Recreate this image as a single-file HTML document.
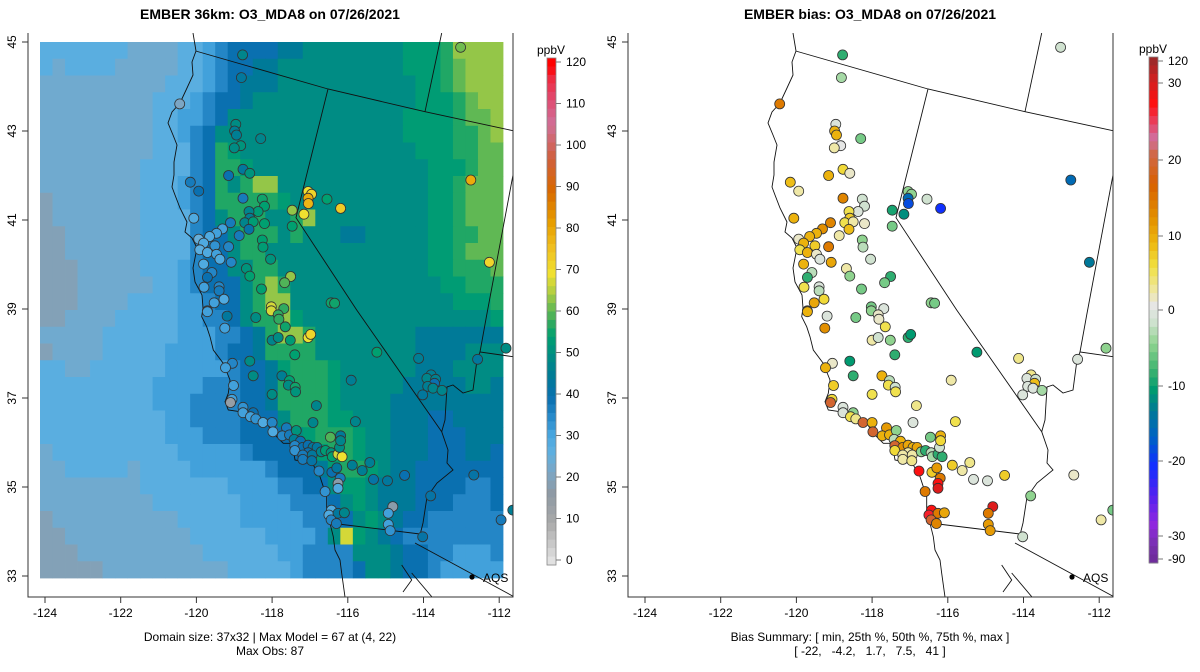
<!DOCTYPE html>
<html><head><meta charset="utf-8"><style>
html,body{margin:0;padding:0;background:#fff}
svg{display:block;font-family:"Liberation Sans",sans-serif}
</style></head><body>
<svg id="s" width="1200" height="672" viewBox="0 0 1200 672" xmlns="http://www.w3.org/2000/svg">
<defs>
<clipPath id="clipL"><rect x="28" y="33" width="485" height="564"/></clipPath>
<clipPath id="clipR"><rect x="628" y="33" width="485" height="564"/></clipPath>
</defs>
<text x="270" y="19" text-anchor="middle" font-size="14" font-weight="bold">EMBER 36km: O3_MDA8 on 07/26/2021</text>
<text x="870" y="19" text-anchor="middle" font-size="14" font-weight="bold">EMBER bias: O3_MDA8 on 07/26/2021</text>
<text x="270" y="641" text-anchor="middle" font-size="12">Domain size: 37x32 | Max Model = 67 at (4, 22)</text>
<text x="270" y="655" text-anchor="middle" font-size="12">Max Obs: 87</text>
<text x="870" y="641" text-anchor="middle" font-size="12">Bias Summary: [ min, 25th %, 50th %, 75th %, max ]</text>
<text x="870" y="655" text-anchor="middle" font-size="12" xml:space="preserve">[ -22,   -4.2,   1.7,   7.5,   41 ]</text>
<g id="L"></g>
<g id="R"></g>
</svg>
<script>
// ---- data ----
const gridRows=[
"cccccccbbbbccdeffffgghhhhhhhhiiijllll",
"cbccccbbbbbccdeffgghhhhhhhhhhiiijklll",
"bbbbbbbbbbcccdefggghhhhhhhhhhhiijklll",
"bbbbbbbbbcccdeffghhhhhhhhhhhhhiiijkll",
"bbbbbbbbbccddefhhhhhhhhhhhhhhiiiijkkl",
"bbbbbbbbbccdefhhhhhhhhhhhhhhhiiiijjkl",
"bbbbbbbbbcccefjihhhhhhhhhhhhhhiiijjkk",
"bbbbbbbbccccefjjihhhhhhhhhhhhhhiiijkk",
"bbbbbbbbcccdefjhjllhhhhhhhhhhhhiijkkk",
"abbbbbbbcccdefjjjjjihhhhhhhhhhhiijkkk",
"abbbbbbbccccefhjjjhhjlhhhhhhhhhiijkkk",
"aabbbbbbcccceffhjjjhjhhhgghhhhhiijjkk",
"aabbbbbbcccceffhjjhhhhhhhhhhhhhiijkkk",
"aaabbbbbcccdeffhhjjhhhhhhhhhhhhiijjjk",
"aaabbbbbbccdefffhjljhhhhhhhhhhhhiijjj",
"aaabbbbccccddeffhjllhhhhhhhhhhhhhiiij",
"aabbbbcccccddeefhjjlihhhhhhhhhhhhhhhi",
"bbbbbccccccdddeefgjlljhhhhhhhhggggggg",
"abbbbcccccddddeffgjjjjhhhhhhhhgggghhh",
"ccbbccccccdddddeffgijjjihhhhhhggghhhh",
"cccccccccddddeeeffgjjjjihhhhhggggghhg",
"cccccccccdddeeeeffgjjjjihhhhggggggggg",
"ccccccccccddeeeefffhjjjiihhhgggffgggg",
"ccccccccccdddeeeffffhijjjihhgggfffggg",
"bccccccccccdddddeffffhijjihhgggfffggf",
"bbcccccbccccddddddefffgijjihggfffffff",
"bbbbbbbbcccccccddddeeffhiihgggffffeef",
"bbbbbbbbbcccccccddddeeefhihgggfffeeef",
"abbbbbbbbbbcccccdddddeeefhihgffeeeeee",
"aabbbbbbbbbbccccccddddehmihgfeeeeeeee",
"aaabbbbbbbbbbccccccddeeeehhhgffeeddde",
"aaaaabbbbbbbbbbcccccdeeeefhhgffeddddd"];
const gridLevels={a:20,b:24,c:28,d:32,e:36,f:40,g:45,h:50,i:54,j:57,k:61,l:64,m:68};
const siteLon=[-118.78,-118.81,-120.44,-118.96,-118.99,-118.94,-118.83,-119.0,-118.30,-118.77,-118.59,-119.15,-120.16,-119.94,-118.77,-118.26,-118.20,-118.37,-118.61,-118.59,-118.72,-118.5,-118.61,-118.2,-117.05,-116.96,-117.05,-117.04,-116.55,-116.19,-117.47,-117.16,-117.47,-113.02,-112.75,-112.26,-120.07,-119.1,-119.31,-119.47,-119.65,-119.94,-119.81,-119.51,-119.91,-119.71,-119.47,-119.38,-119.15,-118.87,-118.26,-118.24,-119.81,-119.59,-119.71,-119.08,-118.68,-118.59,-118.04,-119.4,-119.4,-119.8,-119.27,-119.53,-119.71,-118.28,-117.51,-117.67,-116.44,-116.35,-118.02,-117.69,
-119.71,-119.19,-119.25,-118.43,-118.02,-117.84,-117.82,-117.65,-118.0,-117.84,-117.52,-117.05,-116.98,-117.40,-115.23,-114.13,-112.57,-111.82,-119.05,-119.23,-118.59,-118.5,-119.02,-117.74,-117.54,-117.57,-117.39,-117.38,-118.0,-115.91,-113.8,-113.91,-113.68,-113.71,-113.89,-113.75,-113.51,-114.02,-119.06,-119.1,-118.77,-118.77,-118.5,-116.83,-116.92,-115.8,-118.57,-118.43,-118.24,-118.0,-117.98,-117.62,-117.73,-117.54,-117.36,-117.42,-117.25,-117.4,-117.19,-117.4,-117.05,-116.92,-116.81,-117.05,-117.19,-117.19,-116.94,-116.95,-116.7,-116.59,-116.44,-116.41,-116.26,-116.15,-116.22,-116.19,-116.19,-116.46,-115.88,-115.42,-115.62,-115.32,-114.95,-114.5,-112.67,-113.81,-114.02,-111.95,-111.64,-116.76,-116.42,-116.29,-116.2,-116.26,-116.26,-116.6,-116.43,-116.5,-116.26,-116.09,-116.44,-116.3,-114.81,-114.93,-114.93,-114.88];
const siteLat=[44.71,44.20,43.61,43.15,43.0,42.91,42.67,42.62,42.83,42.14,42.05,42.0,41.85,41.65,41.49,41.47,41.31,41.19,41.19,41.04,40.94,40.96,40.79,40.92,41.64,41.58,41.49,41.37,41.47,41.26,41.22,41.13,40.86,44.88,41.9,40.05,41.04,40.94,40.80,40.7,40.63,40.57,40.48,40.42,40.33,40.27,40.23,40.12,40.4,40.65,40.55,40.39,40.01,39.82,39.71,40.05,39.91,39.74,40.12,39.5,39.41,39.49,39.22,39.14,38.96,39.45,39.73,39.59,39.14,39.13,39.05,39.01,
38.94,38.84,38.57,38.81,38.96,38.87,38.77,38.60,38.30,38.36,38.30,38.36,38.43,37.97,38.03,37.89,37.87,38.12,37.78,37.68,37.83,37.5,37.28,37.5,37.39,37.29,37.24,37.14,37.08,37.40,37.52,37.44,37.42,37.33,37.26,37.22,37.17,37.07,36.97,36.90,36.79,36.67,36.67,36.83,36.45,36.47,36.58,36.53,36.45,36.45,36.24,36.33,36.15,36.17,36.27,36.07,36.03,35.93,35.89,35.82,35.94,35.89,35.89,35.77,35.72,35.62,35.72,35.59,35.79,35.82,35.77,35.68,35.74,35.68,35.89,36.15,36.04,36.12,35.49,35.55,35.37,35.17,35.14,35.26,35.27,34.80,33.88,34.26,34.48,35.36,35.33,35.43,35.2,35.08,34.97,34.9,34.48,34.37,34.41,34.42,34.26,34.18,34.56,34.41,34.16,34.02];
const siteObs=[48,44,22,50,46,46,52,50,48,44,52,40,38,40,38,56,55,54,48,46,48,54,42,55,70,72,80,78,55,74,64,70,55,62,80,72,30,38,32,32,30,26,30,34,28,30,32,30,36,38,55,54,30,36,40,36,52,55,52,36,38,32,30,32,32,55,64,60,56,56,68,58,
32,44,32,50,68,58,58,56,48,50,54,70,72,55,55,46,44,50,36,32,50,50,32,46,55,50,56,52,50,46,46,48,47,40,46,48,48,44,32,15,34,32,40,48,48,48,32,34,30,36,30,38,36,38,52,46,40,36,40,34,40,44,44,40,38,38,44,42,48,54,52,55,68,70,50,45,48,60,46,46,46,42,44,40,42,42,42,38,46,36,40,44,38,18,30,34,30,30,44,48,36,38,18,32,32,34];
const siteBias=[-8,-3,15,0,10,10,1,3,-5,7,2,10,9,3,14,-1,-1,0,6,8,6,3,9,2,-4,-4,-15,-18,-1,-20,-9,-11,-5,-1,-15,-13,10,14,13,10,10,2,10,8,6,10,2,0,15,3,-4,-2,10,-2,-8,11,3,-4,-1,0,-2,6,7,11,10,-5,-8,-5,-4,-5,-5,0,
10,0,13,-5,-4,2,2,6,3,-1,-4,-8,-10,-8,-10,4,0,-4,2,10,-10,-8,8,10,-2,6,-1,6,6,3,4,0,-1,9,0,0,-3,0,7,20,0,0,-4,4,0,6,6,4,20,10,20,12,10,10,-4,-2,10,20,13,7,11,10,11,3,3,3,3,4,-4,-8,-2,-3,-8,-8,-1,10,7,-5,8,4,3,0,0,8,2,-4,-1,3,-5,28,8,12,15,28,30,15,28,27,15,11,20,14,30,15,12,12];
const xTicks=[-124,-122,-120,-118,-116,-114,-112];
const yTicks=[33,35,37,39,41,43,45];
const obsTicks=[0,10,20,30,40,50,60,70,80,90,100,110,120];
const biasTicks=[120,30,20,10,0,-10,-20,-30,-90];

// ---- geometry / scales ----
const NS='http://www.w3.org/2000/svg';
function mk(tag,attrs,parent){const e=document.createElementNS(NS,tag);for(const k in attrs)e.setAttribute(k,attrs[k]);parent.appendChild(e);return e;}
function xs(lon,off){return off+45+(lon+124)*37.85;}
function ys(lat){return 42+(45-lat)*44.5;}
const gx0=40,gy0=42,gcw=463/37,gch=536/32;
function hex(c){return [parseInt(c.slice(1,3),16),parseInt(c.slice(3,5),16),parseInt(c.slice(5,7),16)];}
function interp(stops,v){if(v<=stops[0][0])return stops[0][1];for(let i=1;i<stops.length;i++){if(v<=stops[i][0]){const a=stops[i-1],b=stops[i],t=(v-a[0])/(b[0]-a[0]);const A=hex(a[1]),B=hex(b[1]);return 'rgb('+A.map((q,k)=>Math.round(q+(B[k]-q)*t)).join(',')+')';}}return stops[stops.length-1][1];}
const obsStops=[[0,'#e6e6e6'],[10,'#a9a9a9'],[17,'#8e9aa4'],[22,'#7ca6c4'],[27,'#5fb0e0'],[31,'#4aa8e0'],[35,'#2a8ccc'],[40,'#0a70b0'],[45,'#007a98'],[50,'#008c84'],[55,'#00a070'],[58,'#30aa60'],[62,'#70bc50'],[66,'#b8d040'],[70,'#f0e030'],[76,'#f0c020'],[82,'#e8a000'],[90,'#d86800'],[98,'#d06040'],[106,'#d07098'],[112,'#e04a70'],[117,'#ee2a40'],[120,'#ff0000']];
function obsCol(v){return interp(obsStops,v);}
function obsY(v){return 560-v*(498/120);}
const biasTickY=[61,83,160,236,310,386,461,536,559];
function biasY(v){for(let i=1;i<biasTicks.length;i++){if(v>=biasTicks[i]){const a=biasTicks[i-1],b=biasTicks[i];const t=(v-a)/(b-a);return biasTickY[i-1]+(biasTickY[i]-biasTickY[i-1])*Math.max(0,Math.min(1,t));}}return biasTickY[biasTickY.length-1];}
const biasBarStops=[[57,'#a02828'],[76,'#d02020'],[100,'#ff1010'],[118,'#e84060'],[135,'#d070a0'],[150,'#d06848'],[180,'#d86000'],[215,'#e39200'],[240,'#eeb810'],[262,'#f0e040'],[288,'#efe8a8'],[302,'#e6e6e6'],[318,'#cfe2cf'],[340,'#90d490'],[365,'#40b470'],[386,'#009a70'],[408,'#007898'],[435,'#0060c8'],[461,'#1030ff'],[490,'#5020f0'],[520,'#9028e0'],[540,'#7830b0'],[563,'#6a2a90']];
function biasCol(v){return interp(biasBarStops,biasY(v));}

const coast=[[193,33],[196,51],[192,62],[193,75],[187,88],[180,103],[172,112],[168,123],[173,135],[177,145],[174,162],[174,175],[172,187],[175,195],[180,208],[187,222],[185,232],[192,238],[197,248],[193,268],[195,282],[202,295],[203,308],[201.7,316.7],[206.7,326.7],[210,336.7],[213.3,350],[223.3,363.3],[230,380],[228.3,393.3],[225,401.7],[228.3,410],[240,411.7],[253.3,413.3],[266.7,423.3],[273.3,433.3],[283.3,443.3],[290,443.3],[293.3,450],[295,460],[303.3,461.7],[313.3,465],[320,476.7],[323.3,486.7],[326.7,496.7],[326.7,510],[330,523.3],[333.3,536.7],[335,550],[340,560],[341.7,573.3],[345,597]];
const borders=[
[[195.7,51],[328,89],[425,111.7],[513,130.7]],
[[328,89],[296,217.7],[356.7,310],[441.7,431.7]],
[[441.7,431.7],[448,450],[447,463],[453,470],[437,483],[427,497],[423,523],[420,535]],
[[441.7,431.7],[445,420],[447,387],[453,385],[463,393],[473,390],[477,360],[480,352]],
[[513,175],[486.7,315],[480,352],[513,356.7]],
[[330,523],[420,534]],
[[415,543],[520,600]],
[[441.7,33],[425,111.7]],
[[401.7,565],[411.7,580],[403,592]],
[[411.7,573],[432,597]]];

function panel(g,off,isBias){
  const clip=mk('g',{'clip-path':isBias?'url(#clipR)':'url(#clipL)'},g);
  if(!isBias){
    const gg=mk('g',{},clip);
    
    
    gridRows.forEach((row,j)=>{for(let i=0;i<row.length;i++){
      const v=gridLevels[row[i]];
      const r=mk('rect',{x:(gx0+i*gcw).toFixed(2),y:(gy0+j*gch).toFixed(2),width:(gcw+0.4).toFixed(2),height:(gch+0.4).toFixed(2),fill:obsCol(v)},gg);
      
      
    }});
  }
  const pts=(a)=>a.map(p=>(p[0]+off)+','+p[1]).join(' ');
  const c=mk('polyline',{points:pts(coast),fill:'none',stroke:'#111','stroke-width':0.9},clip);
  
  
  borders.forEach(b=>{const l=mk('polyline',{points:pts(b),fill:'none',stroke:'#111','stroke-width':0.9},clip);
    
    });
  for(let k=0;k<siteLon.length;k++){
    const cc=mk('circle',{cx:xs(siteLon[k],off).toFixed(1),cy:ys(siteLat[k]).toFixed(1),r:5,fill:isBias?biasCol(siteBias[k]):obsCol(siteObs[k]),stroke:'#333','stroke-width':0.8},clip);
    
    
  }
  const ld=mk('circle',{cx:472+off,cy:577,r:2.6,fill:'#000'},g);
  
  
  const lt=mk('text',{x:483+off,y:582,'font-size':12},g);lt.textContent='AQS';
  
  
  const ax=mk('path',{d:`M${28+off},33V597H${513+off}V33`,fill:'none',stroke:'#333','stroke-width':1},g);
  
  
  xTicks.forEach(t=>{const x=xs(t,off);
    mk('line',{x1:x,x2:x,y1:597,y2:603,stroke:'#333'},g);
    const tx=mk('text',{x:x,y:617,'text-anchor':'middle','font-size':12},g);tx.textContent=t;
    
    });
  yTicks.forEach(t=>{const y=ys(t);
    mk('line',{x1:22+off,x2:28+off,y1:y,y2:y,stroke:'#333'},g);
    const tx=mk('text',{x:0,y:0,'text-anchor':'middle','font-size':12,transform:`translate(${16+off},${y}) rotate(-90)`},g);tx.textContent=t;
    
    });
}
function colorbar(g,x0,top,bot,colFn,ticks,tyFn,isBias){
  const cb=mk('g',{},g);
  
  
  const n=60;
  for(let i=0;i<n;i++){const y=top+(bot-top)*i/n;
    mk('rect',{x:x0,y:y.toFixed(2),width:9,height:((bot-top)/n+0.5).toFixed(2),fill:colFn(y)},cb);}
  mk('rect',{x:x0,y:top,width:9,height:bot-top,fill:'none',stroke:'#888','stroke-width':0.8},cb);
  ticks.forEach(t=>{const y=tyFn(t);
    mk('line',{x1:x0+9,x2:x0+14,y1:y,y2:y,stroke:'#777'},cb);
    const tx=mk('text',{x:x0+19,y:y+4,'font-size':12},cb);tx.textContent=t;
    
    });
  const u=mk('text',{x:x0+4,y:top-4,'text-anchor':'middle','font-size':12},cb);u.textContent='ppbV';
  
  
}
panel(document.getElementById('L'),0,false);
panel(document.getElementById('R'),600,true);
colorbar(document.getElementById('L'),547,58,565,y=>obsCol((560-y)*120/498),obsTicks,obsY,false);
colorbar(document.getElementById('R'),1149,57,563,y=>interp(biasBarStops,y),biasTicks,v=>biasTickY[biasTicks.indexOf(v)],true);
</script>
</body></html>
